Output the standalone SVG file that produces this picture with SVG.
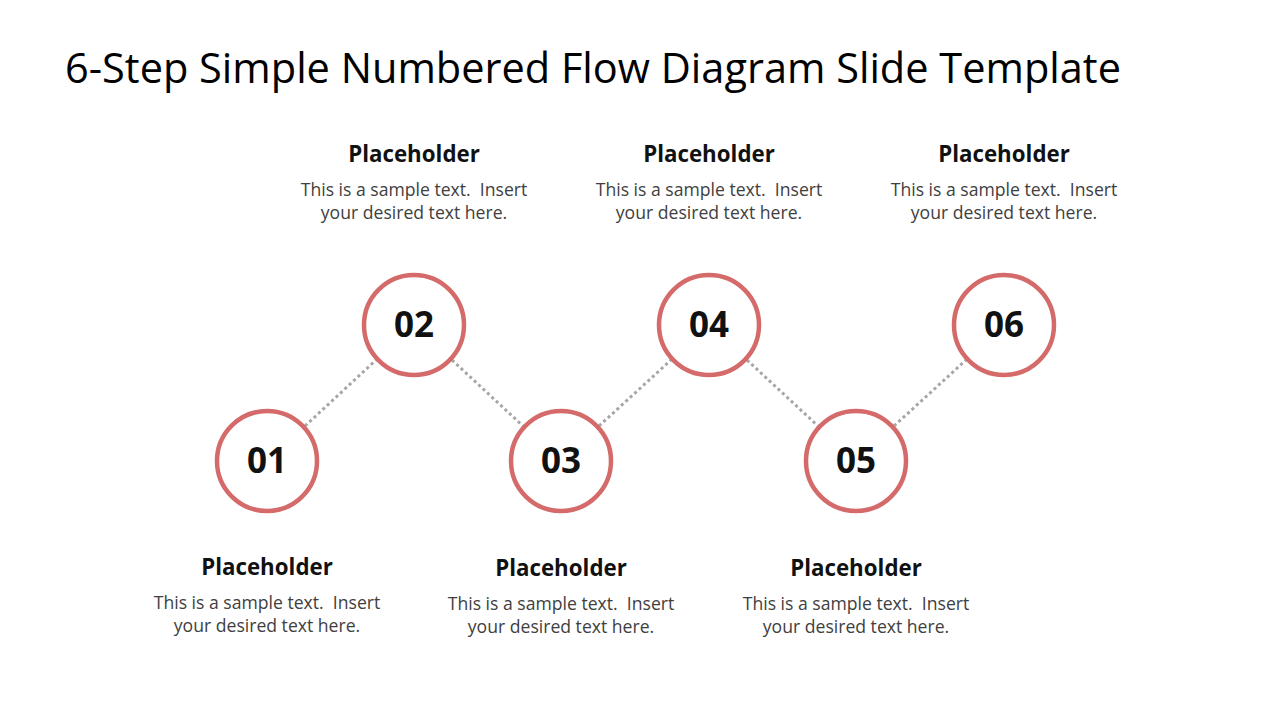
<svg xmlns="http://www.w3.org/2000/svg" width="1280" height="720" viewBox="0 0 1280 720">
<style>
.title{font-family:"Open Sans","Liberation Sans",sans-serif;font-size:41.5px;fill:#000}
.ring{fill:#fff;stroke:#D46A6A;stroke-width:4.5}
.num{font-family:"Open Sans","Liberation Sans",sans-serif;font-size:35px;font-weight:bold;fill:#111;text-anchor:middle}
.head{font-family:"Open Sans","Liberation Sans",sans-serif;font-size:22.3px;font-weight:bold;fill:#111;text-anchor:middle}
.body{font-family:"Open Sans","Liberation Sans",sans-serif;font-size:17.6px;fill:#404040;text-anchor:middle;white-space:pre}
.con{stroke:#A6A6A6;stroke-width:3;stroke-dasharray:3 3;fill:none}
</style>
<rect width="1280" height="720" fill="#fff"/>
<text class="title" x="65" y="83">6-Step Simple Numbered Flow Diagram Slide Template</text>
<g id="connectors">
<line class="con" x1="305" y1="426" x2="376" y2="360"/>
<line class="con" x1="452" y1="360" x2="523" y2="426"/>
<line class="con" x1="599" y1="426" x2="671" y2="360"/>
<line class="con" x1="747" y1="360" x2="818" y2="426"/>
<line class="con" x1="894" y1="426" x2="966" y2="360"/>
</g>
<g id="node1">
<circle class="ring" cx="267" cy="461" r="50"/>
<text class="num" x="267" y="473">01</text>
<text class="head" x="267" y="575">Placeholder</text>
<text class="body" x="267" y="609" xml:space="preserve">This is a sample text.  Insert</text>
<text class="body" x="267" y="632">your desired text here.</text>
</g>
<g id="node2">
<circle class="ring" cx="414" cy="325" r="50"/>
<text class="num" x="414" y="337">02</text>
<text class="head" x="414" y="162">Placeholder</text>
<text class="body" x="414" y="196" xml:space="preserve">This is a sample text.  Insert</text>
<text class="body" x="414" y="219">your desired text here.</text>
</g>
<g id="node3">
<circle class="ring" cx="561" cy="461" r="50"/>
<text class="num" x="561" y="473">03</text>
<text class="head" x="561" y="576">Placeholder</text>
<text class="body" x="561" y="610" xml:space="preserve">This is a sample text.  Insert</text>
<text class="body" x="561" y="633">your desired text here.</text>
</g>
<g id="node4">
<circle class="ring" cx="709" cy="325" r="50"/>
<text class="num" x="709" y="337">04</text>
<text class="head" x="709" y="162">Placeholder</text>
<text class="body" x="709" y="196" xml:space="preserve">This is a sample text.  Insert</text>
<text class="body" x="709" y="219">your desired text here.</text>
</g>
<g id="node5">
<circle class="ring" cx="856" cy="461" r="50"/>
<text class="num" x="856" y="473">05</text>
<text class="head" x="856" y="576">Placeholder</text>
<text class="body" x="856" y="610" xml:space="preserve">This is a sample text.  Insert</text>
<text class="body" x="856" y="633">your desired text here.</text>
</g>
<g id="node6">
<circle class="ring" cx="1004" cy="325" r="50"/>
<text class="num" x="1004" y="337">06</text>
<text class="head" x="1004" y="162">Placeholder</text>
<text class="body" x="1004" y="196" xml:space="preserve">This is a sample text.  Insert</text>
<text class="body" x="1004" y="219">your desired text here.</text>
</g>
</svg>
